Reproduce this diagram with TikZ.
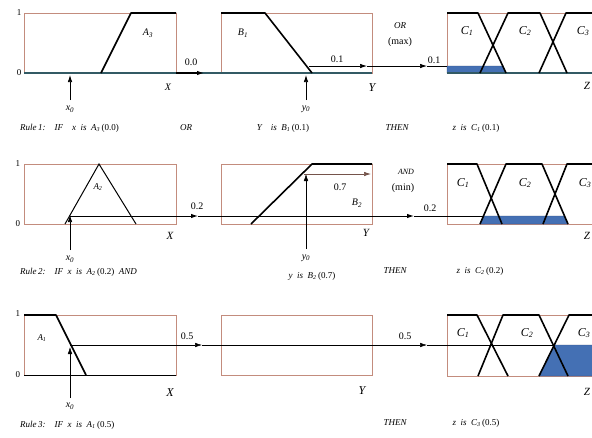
\documentclass[tikz,border=0pt]{standalone}
\usepackage{fontspec}
\setmainfont{Liberation Serif}
\usetikzlibrary{arrows.meta}
\definecolor{boxc}{RGB}{195,140,125}
\definecolor{axisc}{RGB}{50,90,100}
\definecolor{fillc}{RGB}{68,112,180}
\tikzset{
  frame/.style={draw=boxc, line width=0.6pt},
  mf/.style={line width=1.6pt, line join=round},
  mfthin/.style={line width=1pt},
  axisline/.style={draw=axisc, line width=1.2pt},
  flow/.style={line width=0.7pt},
  tip/.style={-{Latex[length=7pt,width=4.5pt]}, line width=0.7pt},
  lbl/.style={font=\fontsize{10}{11}\selectfont, inner sep=0pt},
  lvl/.style={font=\fontsize{9}{10}\selectfont, inner sep=0pt},
  fs/.style={font=\fontsize{12}{13}\selectfont\itshape, inner sep=0pt},
  rule/.style={font=\fontsize{9}{10}\selectfont\itshape, inner sep=0pt},
  shade/.style={fill=fillc, draw=fillc!70!black, line width=0.4pt}
}
\begin{document}
\begin{tikzpicture}[x=1pt,y=-1pt]
\clip (0,0) rectangle (592,437);
\fill[white] (0,0) rectangle (592,437);

% ================= Row 1 =================
\draw[frame] (24,13) rectangle (176,73);
\draw[frame] (221,13) rectangle (372,73);
\draw[frame] (447,13) rectangle (620,73);
\fill[shade] (447,66) -- (503,66) -- (506,73) -- (447,73) -- cycle;
\draw[axisline] (24,73) -- (221,73) -- (372,73);
\draw[axisline] (447,73) -- (620,73);
\node[lvl] (r1one) at (19,13) {1};
\node[lvl] (r1zero) at (19,73) {0};
\draw[mf] (101,73) -- (131,13) -- (176,13);
\node[fs, font=\fontsize{10}{11}\selectfont\itshape] (A3) at (148,33) {A\textsubscript{3}};
\coordinate (x01b) at (70,100);
\coordinate (x01t) at (70,75);
\draw[tip] (x01b) -- (x01t);
\node[lbl, font=\fontsize{10}{11}\selectfont\itshape] (x01) at (70,109) {x\textsubscript{0}};
\node[lbl, font=\fontsize{10}{11}\selectfont\itshape] (X1) at (168,87) {X};
\coordinate (o1a) at (176,73);
\coordinate (o1b) at (204,73);
\draw[tip, line width=1.2pt] (o1a) -- (o1b);
\node[lbl] (v00) at (191,62) {0.0};
\draw[mf] (221,13) -- (265,13) -- (312,73);
\node[fs, font=\fontsize{10}{11}\selectfont\itshape] (B1) at (243,33) {B\textsubscript{1}};
\coordinate (y01b) at (306,100);
\coordinate (y01t) at (306,75);
\draw[tip] (y01b) -- (y01t);
\node[lbl, font=\fontsize{10}{11}\selectfont\itshape] (y01) at (306,109) {y\textsubscript{0}};
\node[lbl, font=\fontsize{12}{13}\selectfont\itshape] (Y1) at (372,88) {Y};
\coordinate (p1a) at (309,66);
\coordinate (p1b) at (367,66);
\coordinate (p1c) at (427,66);
\coordinate (p1d) at (447,66);
\draw[tip] (p1a) -- (p1b);
\draw[tip] (p1b) -- (p1c);
\draw[flow] (p1c) -- (p1d);
\node[lbl] (v01a) at (337,59) {0.1};
\node[lbl] (v01b) at (434,60) {0.1};
\node[lbl, font=\fontsize{9}{10}\selectfont\itshape] (or1) at (400,26) {OR};
\node[lbl] (max1) at (400,42) {(max)};
\draw[mf] (447,13) -- (478,13) -- (506,73);
\draw[mf] (480,73) -- (508,13) -- (540,13) -- (567,73);
\draw[mf] (539,73) -- (566,13) -- (620,13);
\node[fs] (c11) at (467,31) {C\textsubscript{1}};
\node[fs] (c12) at (525,31) {C\textsubscript{2}};
\node[fs] (c13) at (583,31) {C\textsubscript{3}};
\node[lbl, font=\fontsize{11}{12}\selectfont\itshape] (Z1) at (587,86) {Z};
\node[rule, anchor=west] (rule1) at (20,128) {Rule\,1:\quad IF\quad x\ \ is\ \ A\textsubscript{3}\,\upshape(0.0)};
\node[rule] (or1b) at (186,128) {OR};
\node[rule] (ry1) at (283,128) {Y\quad is\ \ B\textsubscript{1}\,\upshape(0.1)};
\node[rule] (then1) at (397,128) {THEN};
\node[rule] (rz1) at (476,128) {z\ \ is\ \ C\textsubscript{1}\,\upshape(0.1)};

% ================= Row 2 =================
\draw[frame] (24,164) rectangle (176,224);
\draw[frame] (221,164) rectangle (372,224);
\draw[frame] (447,164) rectangle (620,224);
\fill[shade] (480,224) -- (483.5,216) -- (564.5,216) -- (568,224) -- cycle;
\node[lvl] (r2one) at (18,164) {1};
\node[lvl] (r2zero) at (18,224) {0};
\draw[mfthin] (65,224) -- (99,164) -- (136,224);
\node[lbl, font=\fontsize{9}{10}\selectfont\itshape] (A2) at (98,187) {A\textsubscript{2}};
\coordinate (x02b) at (70,250);
\coordinate (x02t) at (70,215);
\draw[tip] (x02b) -- (x02t);
\node[lbl, font=\fontsize{10}{11}\selectfont\itshape] (x02) at (70,259) {x\textsubscript{0}};
\node[lbl, font=\fontsize{11}{12}\selectfont\itshape] (X2) at (170,236) {X};
\coordinate (p2a) at (70,216);
\coordinate (p2b) at (198,216);
\coordinate (p2c) at (414,216);
\coordinate (p2d) at (483,216);
\draw[tip, line width=1pt] (p2a) -- (p2b);
\draw[tip, line width=1pt] (p2b) -- (p2c);
\draw[line width=1pt] (p2c) -- (p2d);
\node[lbl] (v02a) at (197,206) {0.2};
\node[lbl] (v02b) at (430,208) {0.2};
\draw[mf] (251,224) -- (312,164) -- (372,164);
\coordinate (y02b) at (306,249);
\coordinate (y02t) at (306,174);
\draw[tip, line width=0.5pt] (y02b) -- (y02t);
\coordinate (p7a) at (304,174);
\coordinate (p7b) at (371,174);
\draw[tip, draw=boxc!60!black] (p7a) -- (p7b);
\node[lbl] (v07) at (340,187) {0.7};
\node[lbl, font=\fontsize{10}{11}\selectfont\itshape] (B2) at (357,203) {B\textsubscript{2}};
\node[lbl, font=\fontsize{11}{12}\selectfont\itshape] (Y2) at (366,233) {Y};
\node[lbl, font=\fontsize{10}{11}\selectfont\itshape] (y02) at (306,258) {y\textsubscript{0}};
\node[lbl, font=\fontsize{8}{9}\selectfont\itshape] (and2) at (406,172) {AND};
\node[lbl] (min2) at (403,188) {(min)};
\draw[mf] (447,164) -- (477,164) -- (502,224);
\draw[mf] (480,224) -- (506,164) -- (542,164) -- (568,224);
\draw[mf] (543,224) -- (567,164) -- (620,164);
\node[fs] (c21) at (463,183) {C\textsubscript{1}};
\node[fs] (c22) at (525,183) {C\textsubscript{2}};
\node[fs] (c23) at (585,183) {C\textsubscript{3}};
\node[lbl, font=\fontsize{11}{12}\selectfont\itshape] (Z2) at (587,236) {Z};
\node[rule, anchor=west] (rule2) at (20,272) {Rule\,2:\quad IF\ \ x\ \ is\ \ A\textsubscript{2}\,\upshape(0.2)\itshape\ \ AND};
\node[rule] (ry2) at (312,276) {y\ \ is\ \ B\textsubscript{2}\,\upshape(0.7)};
\node[rule] (then2) at (395,271) {THEN};
\node[rule] (rz2) at (480,271) {z\ \ is\ \ C\textsubscript{2}\,\upshape(0.2)};

% ================= Row 3 =================
\draw[frame] (24,315) rectangle (176,375);
\draw[frame] (221,315) rectangle (372,375);
\draw[frame] (447,315) rectangle (620,376);
\fill[shade] (539,376) -- (554,345) -- (620,345) -- (620,376) -- cycle;
\draw[line width=0.6pt] (24,375) -- (176,375);
\node[lvl] (r3one) at (18,314) {1};
\node[lvl] (r3zero) at (18,375) {0};
\draw[mf] (24,315) -- (56,315) -- (86,375);
\node[lbl, font=\fontsize{9}{10}\selectfont\itshape] (A1) at (42,338) {A\textsubscript{1}};
\coordinate (x03b) at (70,398);
\coordinate (x03t) at (70,347);
\draw[tip, line width=0.5pt] (x03b) -- (x03t);
\node[lbl, font=\fontsize{10}{11}\selectfont\itshape] (x03) at (70,406) {x\textsubscript{0}};
\node[lbl, font=\fontsize{12}{13}\selectfont\itshape] (X3) at (170,393) {X};
\node[lbl, font=\fontsize{12}{13}\selectfont\itshape] (Y3) at (362,391) {Y};
\coordinate (p3a) at (70,345);
\coordinate (p3b) at (202,345);
\coordinate (p3c) at (427,345);
\coordinate (p3d) at (554,345);
\draw[tip, line width=0.5pt] (p3a) -- (p3b);
\draw[tip, line width=0.5pt] (p3b) -- (p3c);
\draw[line width=1pt] (p3c) -- (p3d);
\node[lbl] (v05a) at (187,336) {0.5};
\node[lbl] (v05b) at (405,336) {0.5};
\draw[mf] (447,315) -- (477,315) -- (508,376);
\draw[mf] (478,376) -- (503,315) -- (539,315) -- (568,376);
\draw[mf] (539,376) -- (569,315) -- (620,315);
\node[fs] (c31) at (463,333) {C\textsubscript{1}};
\node[fs] (c32) at (527,333) {C\textsubscript{2}};
\node[fs] (c33) at (584,333) {C\textsubscript{3}};
\node[lbl, font=\fontsize{11}{12}\selectfont\itshape] (Z3) at (587,392) {Z};
\node[rule, anchor=west] (rule3) at (20,425) {Rule\,3:\quad IF\ \ x\ \ is\ \ A\textsubscript{1}\,\upshape(0.5)};
\node[rule] (then3) at (395,423) {THEN};
\node[rule] (rz3) at (476,423) {z\ \ is\ \ C\textsubscript{3}\,\upshape(0.5)};
\end{tikzpicture}
\end{document}
